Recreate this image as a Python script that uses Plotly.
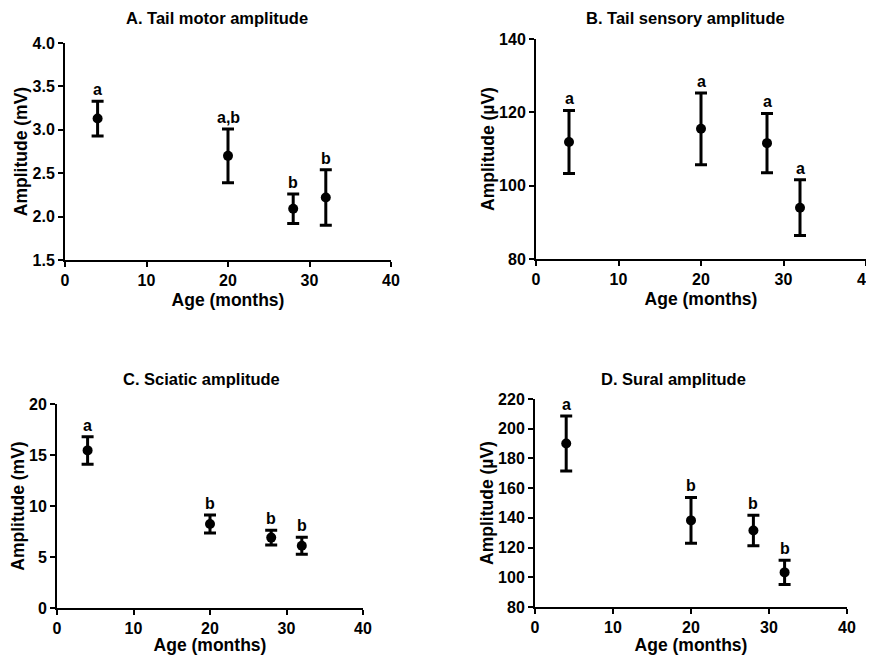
import plotly.graph_objects as go

# The page body has an 8px margin, so the figure is drawn 8px in from the top-left corner.
OFF = 8
W, H = 874 - OFF, 655 - OFF

ages = [4, 20, 28, 32]

motor_mean = [3.13, 2.70, 2.09, 2.22]
motor_err = [0.20, 0.31, 0.17, 0.32]
motor_letters = ["a", "a,b", "b", "b"]

sensory_mean = [111.9, 115.5, 111.6, 94.0]
sensory_err = [8.6, 9.8, 8.1, 7.6]
sensory_letters = ["a", "a", "a", "a"]

sciatic_mean = [15.45, 8.24, 6.9, 6.1]
sciatic_err = [1.35, 0.88, 0.72, 0.83]
sciatic_letters = ["a", "b", "b", "b"]

sural_mean = [190.0, 138.3, 131.5, 103.3]
sural_err = [18.5, 15.4, 10.2, 8.2]
sural_letters = ["a", "b", "b", "b"]

panels = [
    dict(title="A. Tail motor amplitude", ytitle="Amplitude (mV)", mean=motor_mean, err=motor_err,
         letters=motor_letters, yrange=[1.5, 4.0], dtick=0.5, fmt=".1f",
         px=(65, 391, 43, 260), tpos=(217, 18)),
    dict(title="B. Tail sensory amplitude", ytitle="Amplitude (\u00b5V)", mean=sensory_mean, err=sensory_err,
         letters=sensory_letters, yrange=[80, 140], dtick=20, fmt="d",
         px=(536, 866, 39, 259), tpos=(685, 18)),
    dict(title="C. Sciatic amplitude", ytitle="Amplitude (mV)", mean=sciatic_mean, err=sciatic_err,
         letters=sciatic_letters, yrange=[0, 20], dtick=5, fmt="d",
         px=(57, 363, 404, 608), tpos=(201, 379)),
    dict(title="D. Sural amplitude", ytitle="Amplitude (\u00b5V)", mean=sural_mean, err=sural_err,
         letters=sural_letters, yrange=[80, 220], dtick=20, fmt="d",
         px=(535, 847, 399, 607), tpos=(673, 379)),
]

FONT = "Liberation Sans, Arial, Helvetica, sans-serif"
fig = go.Figure()
annotations = []
layout = {}


def fx(px):
    return (px - OFF) / W


def fy(py):
    return 1 - (py - OFF) / H


for i, p in enumerate(panels):
    n = "" if i == 0 else str(i + 1)
    xa, ya = "x" + n, "y" + n
    fig.add_trace(go.Scatter(
        x=ages, y=p["mean"], mode="markers", xaxis=xa, yaxis=ya,
        marker=dict(color="black", size=10),
        error_y=dict(type="data", array=p["err"], visible=True, color="black", thickness=3, width=6),
        showlegend=False, cliponaxis=False,
    ))
    x0, x1, y0, y1 = p["px"]
    axis_common = dict(
        showline=True, linecolor="black", linewidth=2, ticks="outside", ticklen=5, tickwidth=2,
        tickcolor="black", showgrid=False, zeroline=False, mirror=False, automargin=False,
        ticklabeloverflow="allow",
        tickfont=dict(family=FONT, size=16, color="black", weight="bold"),
    )
    layout["xaxis" + n] = dict(
        axis_common, domain=[fx(x0), min(fx(x1), 1)], range=[0, 40], tickmode="linear", tick0=0, dtick=10,
        anchor=ya, title=dict(text="Age (months)", standoff=6,
                              font=dict(family=FONT, size=17.5, color="black", weight="bold")),
    )
    layout["yaxis" + n] = dict(
        axis_common, domain=[fy(y1), fy(y0)], range=p["yrange"], tickmode="linear",
        tick0=p["yrange"][0], dtick=p["dtick"], tickformat=p["fmt"], anchor=xa,
        title=dict(text=p["ytitle"], standoff=0,
                   font=dict(family=FONT, size=17.5, color="black", weight="bold")),
    )
    for a, m, e, t in zip(ages, p["mean"], p["err"], p["letters"]):
        annotations.append(dict(
            x=a, y=m + e, xref=xa, yref=ya, text=t, showarrow=False, yanchor="bottom", yshift=1,
            font=dict(family=FONT, size=16, color="black", weight="bold"),
        ))
    annotations.append(dict(
        x=fx(p["tpos"][0]), y=fy(p["tpos"][1]), xref="paper", yref="paper", text=p["title"],
        showarrow=False, xanchor="center", yanchor="middle",
        font=dict(family=FONT, size=16.5, color="black", weight="bold"),
    ))

fig.update_layout(
    width=W, height=H, margin=dict(l=0, r=0, t=0, b=0),
    paper_bgcolor="white", plot_bgcolor="white",
    annotations=annotations, **layout,
)

fig.write_html("out.html")
